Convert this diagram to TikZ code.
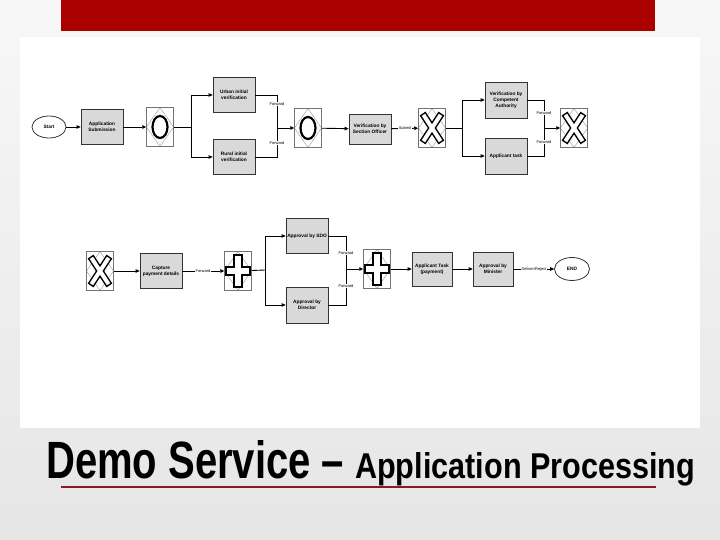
\documentclass[tikz,border=0pt]{standalone}
\usepackage{fontspec}
\usepackage{graphicx}
\setmainfont{Liberation Sans}
\usetikzlibrary{shapes.geometric,arrows.meta}
\definecolor{barred}{HTML}{AA0000}
\definecolor{linered}{HTML}{8B1A1A}
\definecolor{boxgray}{HTML}{D9D9D9}
\newcommand\gwdia{\draw[black!40,line width=0.4pt] (path picture bounding box.north) -- (path picture bounding box.east) -- (path picture bounding box.south) -- (path picture bounding box.west) -- cycle;}
\begin{document}
\begin{tikzpicture}[x=1pt,y=-1pt,
  task/.style={draw=black!80,line width=0.8pt,fill=boxgray,minimum width=42pt,minimum height=35pt,align=center,font=\fontsize{4.8}{6}\selectfont\bfseries,inner sep=1pt},
  ev/.style={ellipse,draw=black!80,line width=0.8pt,fill=white,minimum width=34pt,minimum height=22pt,font=\fontsize{4.8}{6}\selectfont\bfseries,inner sep=0pt},
  gw/.style={draw=black!55,line width=0.5pt,fill=white,minimum width=27pt,minimum height=39pt,inner sep=0pt},
  gwo/.style={gw,path picture={\gwdia
     \draw[black,line width=2.2pt,shift={(path picture bounding box.center)}] (0,0) ellipse [x radius=7.5, y radius=11];}},
  gwx/.style={gw,path picture={\gwdia
     \begin{scope}[shift={(path picture bounding box.center)}]
       \draw[black,line width=7pt,line cap=rect] (-7.5,-11.5)--(7.5,11.5) (-7.5,11.5)--(7.5,-11.5);
       \draw[white,line width=4pt,line cap=rect] (-7.5,-11.5)--(7.5,11.5) (-7.5,11.5)--(7.5,-11.5);
     \end{scope}}},
  gwp/.style={gw,path picture={\gwdia
     \begin{scope}[shift={(path picture bounding box.center)}]
       \draw[black,line width=10pt,line cap=rect] (-8,0)--(8,0) (0,-12)--(0,12);
       \draw[white,line width=6pt,line cap=rect] (-8,0)--(8,0) (0,-12)--(0,12);
     \end{scope}}},
  lab/.style={fill=white,inner sep=0.6pt,font=\fontsize{4}{4.5}\selectfont},
  con/.style={line width=0.9pt,black},
  arr/.style={con,-{Triangle[length=4pt,width=3.6pt]}}
]
\useasboundingbox (0,0) rectangle (720,540);
% background
\shade[top color=gray!6,bottom color=gray!20] (0,0) rectangle (720,540);
\fill[barred] (61,0) rectangle (655,31);
\fill[white] (20,37) rectangle (700,428);

% ---- top row ----
\node[ev] (start) at (49,127) {Start};
\node[task] (sub) at (102,127) {Application\\Submission};
\node[gwo] (g1) at (160,127) {};
\coordinate (s1) at (191,127);
\node[task] (urban) at (234,95) {Urban initial\\verification};
\node[task] (rural) at (234,157) {Rural initial\\verification};
\coordinate (m1) at (277,128);
\node[gwo] (g2) at (308,128) {};
\node[task,minimum height=30pt] (sec) at (370,129) {Verification by\\Section Officer};
\node[gwx] (g3) at (432,128) {};
\coordinate (s2) at (462,128);
\node[task,minimum height=36pt] (comp) at (506,100) {Verification by\\Competent\\Authority};
\node[task,minimum height=36pt] (appt) at (506,156) {Applicant task};
\coordinate (m2) at (544,128);
\node[gwx] (g4) at (574,128) {};

\draw[arr] (start) -- (sub);
\draw[arr] (sub) -- (g1);
\draw[con] (g1) -- (s1);
\draw[arr] (s1) |- (urban);
\draw[arr] (s1) |- (rural);
\draw[con] (urban) -| (m1);
\draw[con] (rural) -| (m1);
\draw[arr] (m1) -- (g2);
\draw[arr] (g2) -- (sec);
\draw[arr] (sec) -- (g3);
\draw[con] (g3) -- (s2);
\draw[arr] (s2) |- (comp);
\draw[arr] (s2) |- (appt);
\draw[con] (comp) -| (m2);
\draw[con] (appt) -| (m2);
\draw[arr] (m2) -- (g4);

\node[lab] (f1) at (277,104) {Forward};
\node[lab] (f2) at (277,143) {Forward};
\node[lab] (sb) at (405,128) {Submit};
\node[lab] (f3) at (544,113) {Forward};
\node[lab] (f4) at (544,142) {Forward};

% ---- bottom row ----
\node[gwx] (g5) at (100,271) {};
\node[task] (cap) at (161,271) {Capture\\payment details};
\node[gwp] (g6) at (238,271) {};
\coordinate (s3) at (265,270);
\node[task] (sdo) at (307,236) {Approval by SDO};
\node[task,minimum height=36pt] (dir) at (307,305) {Approval by\\Director};
\coordinate (m3) at (346,269);
\node[gwp] (g7) at (377,269) {};
\node[task,minimum width=40pt,minimum height=34pt] (apay) at (432,269) {Applicant Task\\(payment)};
\node[task,minimum width=40pt,minimum height=34pt] (mini) at (493,269) {Approval by\\Minister};
\node[ev,minimum width=35pt,minimum height=23pt] (end) at (572,269) {END};

\draw[arr] (g5) -- (cap);
\draw[arr] (cap) -- (g6);
\draw[con] (g6) -- (s3);
\draw[arr] (s3) |- (sdo);
\draw[arr] (s3) |- (dir);
\draw[con] (sdo) -| (m3);
\draw[con] (dir) -| (m3);
\draw[arr] (m3) -- (g7);
\draw[arr] (g7) -- (apay);
\draw[arr] (apay) -- (mini);
\draw[arr] (mini) -- (end);

\node[lab] (f5) at (203,271) {Forward};
\node[lab] (f6) at (346,253) {Forward};
\node[lab] (f7) at (346,286) {Forward};
\node[lab] (dr) at (534,269) {Deliver/Reject};

% ---- title ----
\node[anchor=base west,inner sep=0pt] (t1) at (46,478) {\resizebox{298pt}{38pt}{\bfseries Demo Service –}};
\node[anchor=base west,inner sep=0pt] (t2) at (355,478) {\resizebox{340pt}{26pt}{\bfseries Application Processing}};
\draw[linered,line width=2.5pt] (61,487) -- (656,487);
\end{tikzpicture}
\end{document}
